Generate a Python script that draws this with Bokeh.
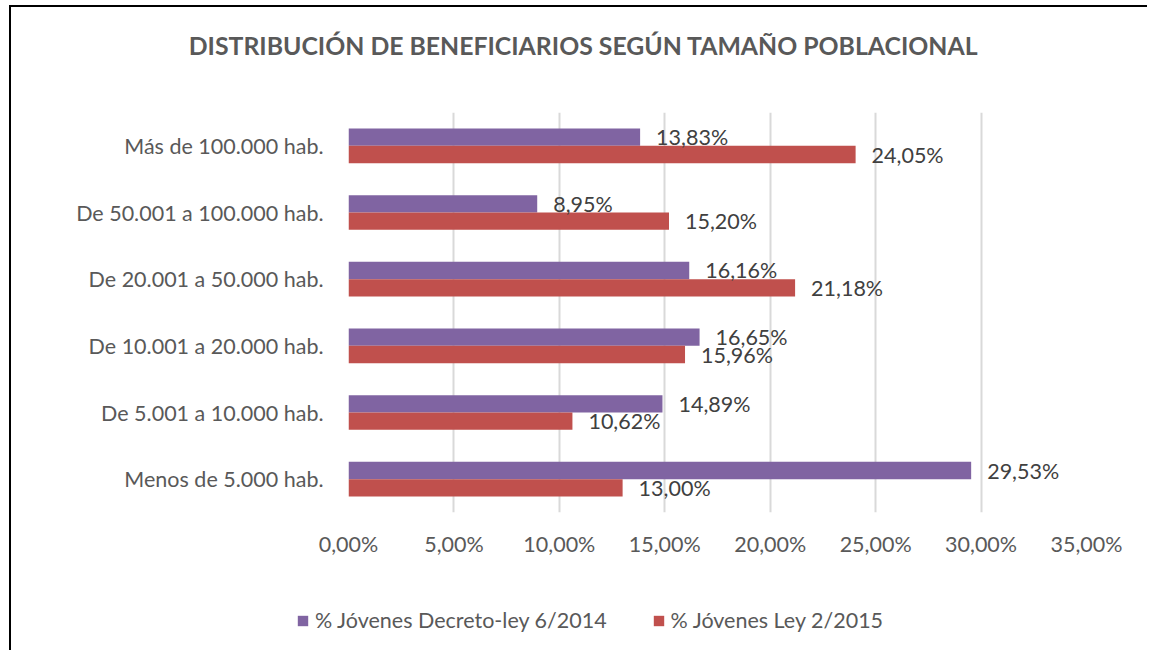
from bokeh.plotting import figure
from bokeh.layouts import column
from bokeh.models import (ColumnDataSource, FactorRange, Range1d, FixedTicker, Label,
                          Legend, LegendItem)
from bokeh.transform import dodge
from bokeh.core.properties import value
from bokeh.embed import file_html
from bokeh.resources import INLINE

title_text = "DISTRIBUCIÓN DE BENEFICIARIOS SEGÚN TAMAÑO POBLACIONAL"
categories = ["Más de 100.000 hab.", "De 50.001 a 100.000 hab.", "De 20.001 a 50.000 hab.",
              "De 10.001 a 20.000 hab.", "De 5.001 a 10.000 hab.", "Menos de 5.000 hab."]
series_names = ["% Jóvenes Decreto-ley 6/2014", "% Jóvenes Ley 2/2015"]
decreto_2014 = [13.83, 8.95, 16.16, 16.65, 14.89, 29.53]
ley_2015 = [24.05, 15.20, 21.18, 15.96, 10.62, 13.00]
tick_values = [0, 5, 10, 15, 20, 25, 30, 35]
tick_labels = ["0,00%", "5,00%", "10,00%", "15,00%", "20,00%", "25,00%", "30,00%", "35,00%"]

PURPLE = "#8064A2"
RED = "#C0504D"
FONT = "Lato"
FS = "21.5px"

def fmt(v):
    return ("%.2f%%" % v).replace(".", ",")

src = ColumnDataSource(dict(
    cat=categories,
    a=decreto_2014, b=ley_2015,
    la=[fmt(v) for v in decreto_2014], lb=[fmt(v) for v in ley_2015],
))

W, H0, H1, H2 = 1136, 80, 493, 70

def strip(height):
    f = figure(width=W, height=height, output_backend="svg", toolbar_location=None,
               x_range=Range1d(0, 1), y_range=Range1d(0, 1),
               x_axis_location=None, y_axis_location=None,
               min_border=0, min_border_left=0, min_border_right=0,
               min_border_top=0, min_border_bottom=0)
    f.frame_align = False
    f.outline_line_color = None
    f.grid.grid_line_color = None
    return f

# title strip
tf = strip(H0)
tf.add_layout(Label(x=572, y=42, x_units="screen", y_units="screen", text=title_text,
                    text_align="center", text_baseline="middle", text_font=FONT,
                    text_font_size="24.8px", text_font_style="bold", text_color="#595959"))

# main chart
p = figure(width=W, height=H1, output_backend="svg", toolbar_location=None,
           y_range=FactorRange(factors=list(reversed(categories)), range_padding=0),
           x_range=Range1d(0, 35),
           min_border_left=337, min_border_right=61, min_border_top=25, min_border_bottom=68)
p.outline_line_color = None
p.frame_align = False

ra = p.hbar(y=dodge("cat", 0.13, range=p.y_range), right="a", left=0, height=0.26,
            source=src, fill_color=PURPLE, line_color=None)
rb = p.hbar(y=dodge("cat", -0.13, range=p.y_range), right="b", left=0, height=0.26,
            source=src, fill_color=RED, line_color=None)

p.text(x="a", y=dodge("cat", 0.13, range=p.y_range), text="la", source=src,
       x_offset=16, text_align="left", text_baseline="middle",
       text_font=value(FONT), text_font_size=FS, text_color="#404040")
p.text(x="b", y=dodge("cat", -0.13, range=p.y_range), text="lb", source=src,
       x_offset=16, text_align="left", text_baseline="middle",
       text_font=value(FONT), text_font_size=FS, text_color="#404040")

p.xaxis.ticker = FixedTicker(ticks=tick_values)
p.xaxis.major_label_overrides = {t: l for t, l in zip(tick_values, tick_labels)}
p.xaxis.axis_line_color = None
p.xaxis.major_tick_line_color = None
p.xaxis.minor_tick_line_color = None
p.xaxis.major_label_standoff = 12
p.xaxis.major_label_text_font = FONT
p.xaxis.major_label_text_font_size = FS
p.xaxis.major_label_text_color = "#595959"

p.yaxis.axis_line_color = None
p.yaxis.major_tick_line_color = None
p.yaxis.minor_tick_line_color = None
p.yaxis.major_label_standoff = 19
p.yaxis.major_label_text_font = FONT
p.yaxis.major_label_text_font_size = FS
p.yaxis.major_label_text_color = "#595959"

p.ygrid.grid_line_color = None
p.xgrid.grid_line_color = "#D9D9D9"
p.xgrid.grid_line_width = 2

# legend strip (zero-area bars, only their legend glyphs show)
lf = strip(H2)
la_r = lf.hbar(y="a", left="a", right="a", height=0, source=src,
               fill_color=PURPLE, line_color=None)
lb_r = lf.hbar(y="b", left="b", right="b", height=0, source=src,
               fill_color=RED, line_color=None)
legend = Legend(items=[LegendItem(label=series_names[0], renderers=[la_r]),
                       LegendItem(label=series_names[1], renderers=[lb_r])],
                orientation="horizontal", location=(285, 17),
                label_text_font=FONT, label_text_font_size=FS, label_text_color="#595959",
                glyph_width=13, glyph_height=13, spacing=45, label_standoff=6,
                padding=0, margin=0,
                border_line_color=None, background_fill_alpha=0)
lf.add_layout(legend, "center")

layout = column(tf, p, lf, spacing=0)
layout.styles = {"margin-left": "9px", "margin-top": "5px",
                 "border-left": "2px solid #000000", "border-top": "2px solid #000000"}

open("out.html", "w").write(file_html(layout, INLINE))
